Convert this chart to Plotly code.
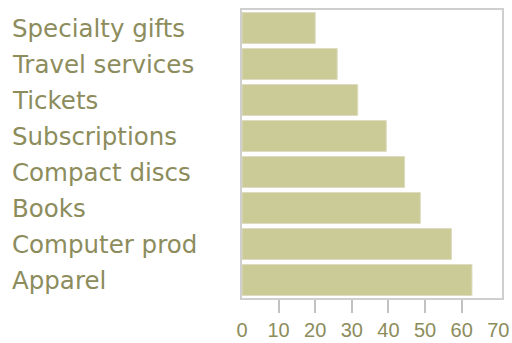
import plotly.graph_objects as go

categories = ["Specialty gifts", "Travel services", "Tickets", "Subscriptions",
              "Compact discs", "Books", "Computer prod", "Apparel"]
values = [20, 26, 31.6, 39.4, 44.4, 48.7, 57.2, 62.8]
tick_vals = [0, 10, 20, 30, 40, 50, 60, 70]
tick_labels = ["0", "10", "20", "30", "40", "50", "60", "70"]
tick_marks = [10, 20, 30, 40, 50, 60]

BAR = "#cbcb98"
TXT = "#8c8c5c"
GRID = "#cfcfcf"
TICK = "#c2c2c2"

fig = go.Figure()
fig.add_trace(go.Bar(
    x=values, y=categories, orientation="h",
    marker=dict(color=BAR, line=dict(color="#dedcc0", width=1)),
    hoverinfo="skip",
))
# invisible trace to activate overlay axis for labels
fig.add_trace(go.Scatter(x=[0, 70], y=[categories[0], categories[0]], xaxis="x2",
                         mode="markers", marker=dict(opacity=0), hoverinfo="skip",
                         showlegend=False))

for c in categories:
    fig.add_annotation(text=c, x=-0.893, xref="paper", y=c, yref="y",
                       xanchor="left", yanchor="middle", showarrow=False,
                       font=dict(family="DejaVu Sans", size=24.5, color=TXT))

fig.update_layout(
    width=512, height=343,
    margin=dict(l=242, r=10, t=10, b=45, autoexpand=False),
    paper_bgcolor="white", plot_bgcolor="white",
    showlegend=False,
    bargap=0.14,
    xaxis=dict(range=[0, 71], tickmode="array", tickvals=tick_marks, showticklabels=False,
               ticks="outside", ticklen=13, tickwidth=2, tickcolor=TICK,
               showgrid=False, zeroline=False, showline=True, linecolor=GRID,
               linewidth=2, mirror=True, automargin=False),
    xaxis2=dict(range=[0, 71], overlaying="x", side="bottom", tickmode="array",
                tickvals=tick_vals, ticktext=tick_labels, ticks="outside", ticklen=14,
                tickcolor="rgba(0,0,0,0)",
                showgrid=False, zeroline=False, showline=False, automargin=False,
                tickfont=dict(family="Liberation Sans", size=20, color=TXT)),
    yaxis=dict(categoryorder="array", categoryarray=categories[::-1],
               showticklabels=False, ticks="", showgrid=False, zeroline=False,
               showline=True, linecolor=GRID, linewidth=2, mirror=True,
               range=[-0.5, 7.5], automargin=False),
)

fig.write_html("out.html", config={"displayModeBar": False},
               post_script="document.body.style.margin='0';document.body.style.overflow='hidden';")
